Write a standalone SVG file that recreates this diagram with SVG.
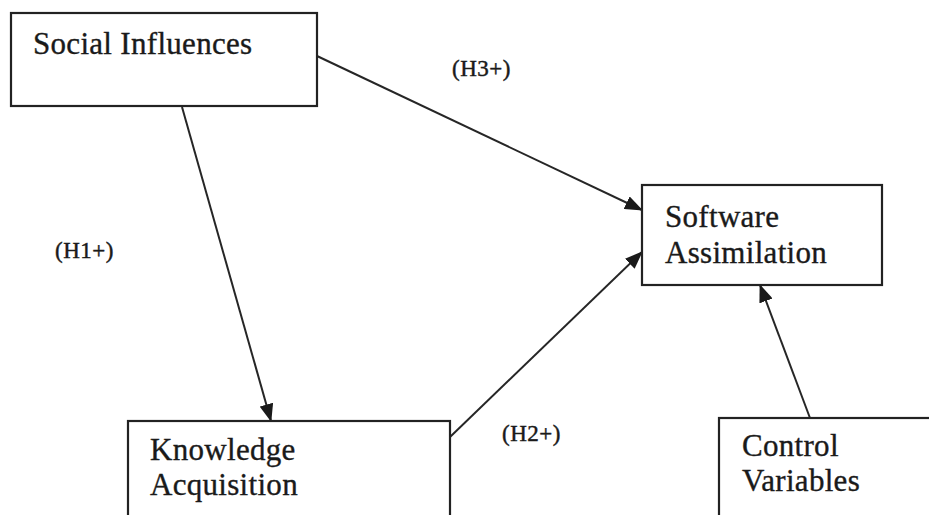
<svg xmlns="http://www.w3.org/2000/svg" width="929" height="515" viewBox="0 0 929 515">
<style>
.box{fill:#fff;stroke:#222;stroke-width:2.2}
.t{font-family:"Liberation Serif","Times New Roman",serif;font-size:31px;fill:#1a1a1a;stroke:#1a1a1a;stroke-width:0.35px;letter-spacing:0.3px}
.lbl{font-family:"Liberation Serif","Times New Roman",serif;font-size:23px;fill:#1a1a1a;stroke:#1a1a1a;stroke-width:0.45px;letter-spacing:0.5px}
.edge{stroke:#262626;stroke-width:2;fill:none;marker-end:url(#ah)}
</style>
<defs>
<marker id="ah" markerUnits="userSpaceOnUse" markerWidth="18" markerHeight="14" viewBox="0 0 18 14" refX="17" refY="7" orient="auto">
<path d="M0,0 L18,7 L0,14 Z" fill="#1a1a1a"/>
</marker>
</defs>
<rect width="929" height="515" fill="#fff"/>
<g id="connectors">
<line class="edge" x1="182" y1="107" x2="271" y2="421"/>
<line class="edge" x1="317" y1="56" x2="642" y2="210"/>
<line class="edge" x1="450" y1="437" x2="642" y2="252"/>
<line class="edge" x1="810" y1="418" x2="760" y2="285"/>
</g>
<g id="social-influences">
<rect class="box" x="11" y="13" width="306" height="93"/>
<text class="t" x="33" y="54">Social Influences</text>
</g>
<g id="software-assimilation">
<rect class="box" x="642" y="185" width="240" height="100"/>
<text class="t" x="665" y="227">Software</text>
<text class="t" x="665" y="263">Assimilation</text>
</g>
<g id="knowledge-acquisition">
<rect class="box" x="128" y="421" width="322" height="110"/>
<text class="t" x="150" y="460">Knowledge</text>
<text class="t" x="150" y="495">Acquisition</text>
</g>
<g id="control-variables">
<rect class="box" x="719" y="418" width="230" height="110"/>
<text class="t" x="742" y="456">Control</text>
<text class="t" x="742" y="491">Variables</text>
</g>
<g id="labels">
<text class="lbl" x="452" y="76">(H3+)</text>
<text class="lbl" x="55" y="258">(H1+)</text>
<text class="lbl" x="502" y="441">(H2+)</text>
</g>
</svg>
